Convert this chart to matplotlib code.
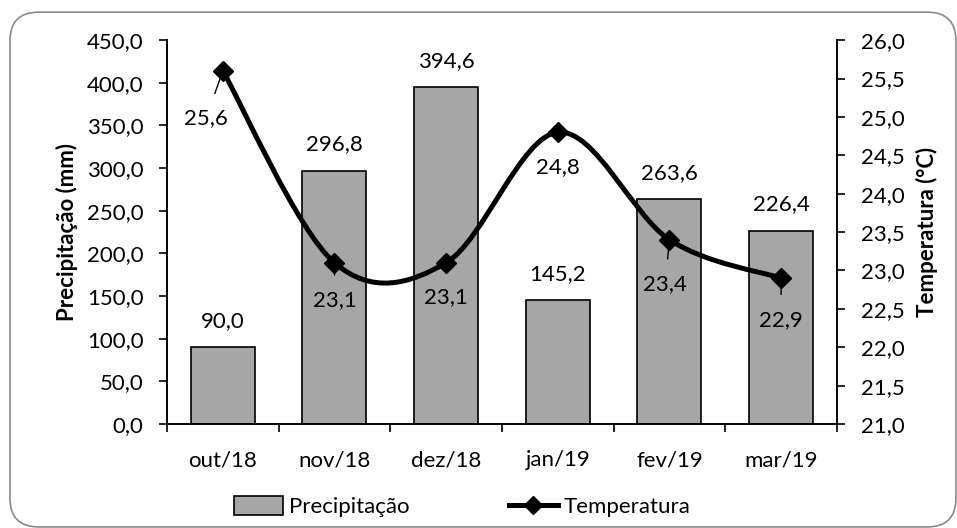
import numpy as np
import matplotlib
matplotlib.use('Agg')
import matplotlib.pyplot as plt
from matplotlib.path import Path
from matplotlib.patches import PathPatch, FancyBboxPatch, Patch
from matplotlib.lines import Line2D
from matplotlib.ticker import FuncFormatter, MultipleLocator

plt.rcParams['font.family'] = ['Lato', 'DejaVu Sans']

# Data
months = ['out/18', 'nov/18', 'dez/18', 'jan/19', 'fev/19', 'mar/19']
precip = [90.0, 296.8, 394.6, 145.2, 263.6, 226.4]
temp = [25.6, 23.1, 23.1, 24.8, 23.4, 22.9]

# label offsets (points) for the temperature labels
temp_offsets = [(-12, -34), (0, -27), (0, -25), (0, -25), (-3, -32), (0, -30)]

fs = 16
fmt = FuncFormatter(lambda v, _: f'{v:.1f}'.replace('.', ','))

fig = plt.figure(figsize=(9.57, 5.28), dpi=100)
ax = fig.add_axes([0.1745, 0.197, 0.700, 0.727])
ax2 = ax.twinx()

x = np.arange(len(months))
ax.bar(x, precip, width=0.573, color='#a6a6a6', edgecolor='black', linewidth=1.2, zorder=2)
for xi, p in zip(x, precip):
    ax.annotate(f'{p:.1f}'.replace('.', ','), (xi, p), xytext=(0, 19), textcoords='offset points',
                ha='center', va='center', fontsize=fs)

ax.set_xlim(-0.5, len(months) - 0.5)
ax.set_ylim(0, 450)
ax.yaxis.set_major_locator(MultipleLocator(50))
ax.yaxis.set_major_formatter(fmt)
ax.set_xticks(x)
ax.set_xticklabels(months)
ax.set_xticks(np.arange(-0.5, len(months)), minor=True)
ax.tick_params(axis='x', which='major', length=0, pad=19, labelsize=fs)
ax.tick_params(axis='x', which='minor', length=6, width=1.2, direction='out')
ax.tick_params(axis='y', length=6, width=1.2, labelsize=fs, pad=11)
ax.set_ylabel('Precipitação (mm)', fontsize=fs, fontweight='bold', labelpad=6)

ax2.set_ylim(21, 26)
ax2.yaxis.set_major_locator(MultipleLocator(0.5))
ax2.yaxis.set_major_formatter(fmt)
ax2.tick_params(axis='y', length=6, width=1.2, labelsize=fs, pad=11)
ax2.set_ylabel('Temperatura (°C)', fontsize=fs, fontweight='bold', labelpad=8)

for a in (ax, ax2):
    a.spines['top'].set_visible(False)
    for s in ('left', 'right', 'bottom'):
        a.spines[s].set_linewidth(1.2)

# smoothed line (Excel-style bezier through the points)
pts = np.column_stack([x, temp]).astype(float)
n = len(pts)
verts = [pts[0]]
codes = [Path.MOVETO]
for i in range(n - 1):
    p0 = pts[max(i - 1, 0)]
    p1 = pts[i]
    p2 = pts[i + 1]
    p3 = pts[min(i + 2, n - 1)]
    c1 = p1 + (p2 - p0) / 6
    c2 = p2 - (p3 - p1) / 6
    verts += [c1, c2, p2]
    codes += [Path.CURVE4] * 3
ax2.add_patch(PathPatch(Path(verts, codes), facecolor='none', edgecolor='black', lw=3.6,
                        capstyle='round', joinstyle='round', zorder=3))
ax2.plot(x, temp, linestyle='none', marker='D', markersize=10.5, color='black', zorder=4)

for xi, t, off in zip(x, temp, temp_offsets):
    ax2.annotate(f'{t:.1f}'.replace('.', ','), (xi, t), xytext=off, textcoords='offset points',
                 ha='center', va='center', fontsize=fs,
                 arrowprops=dict(arrowstyle='-', color='black', lw=1, shrinkA=9, shrinkB=3))

handles = [Patch(facecolor='#a6a6a6', edgecolor='black', linewidth=1.2),
           Line2D([0], [0], color='black', lw=3.6, marker='D', markersize=9)]
fig.legend(handles, ['Precipitação', 'Temperatura'], loc='center', bbox_to_anchor=(0.483, 0.04),
           ncol=2, frameon=False, fontsize=fs, handlelength=2.2, handleheight=0.9,
           handletextpad=0.25, columnspacing=4.5)

fig.patches.append(FancyBboxPatch((0.0104, 0.002), 0.9885, 0.975, boxstyle='round,pad=0,rounding_size=0.03',
                                  transform=fig.transFigure, facecolor='none', edgecolor='#8a8a8a', lw=1.2,
                                  mutation_aspect=957 / 528))

fig.savefig('out.png', dpi=100)
